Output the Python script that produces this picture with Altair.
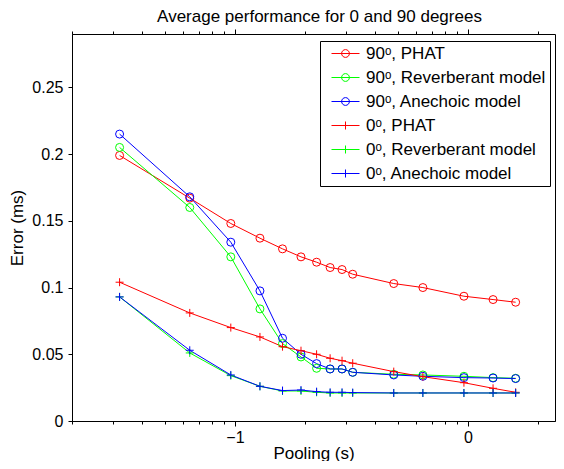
import altair as alt
import pandas as pd

# ---------------- data ----------------
pooling = [0.032, 0.064, 0.096, 0.128, 0.16, 0.192, 0.224, 0.256, 0.288, 0.32,
           0.48, 0.64, 0.96, 1.28, 1.6]

series_names = ["90ᵒ, PHAT", "90ᵒ, Reverberant model", "90ᵒ, Anechoic model",
                "0ᵒ, PHAT", "0ᵒ, Reverberant model", "0ᵒ, Anechoic model"]
series_colors = ["#ff0000", "#00ff00", "#0000ff", "#ff0000", "#00ff00", "#0000ff"]

err_90_phat = [0.199, 0.167, 0.148, 0.137, 0.129, 0.123, 0.119, 0.115, 0.1135, 0.110,
               0.103, 0.100, 0.0935, 0.091, 0.089]
err_90_rev = [0.205, 0.160, 0.123, 0.084, 0.058, 0.048, 0.0395, 0.039, 0.039, 0.0365,
              0.035, 0.0345, 0.0335, 0.0325, 0.032]
err_90_ane = [0.215, 0.168, 0.134, 0.0975, 0.062, 0.050, 0.043, 0.039, 0.039, 0.0365,
              0.0345, 0.0335, 0.0325, 0.0322, 0.0318]
err_0_phat = [0.104, 0.081, 0.070, 0.063, 0.0557, 0.0527, 0.050, 0.047, 0.0452, 0.0433,
              0.037, 0.0332, 0.0287, 0.0245, 0.0215]
err_0_rev = [0.093, 0.051, 0.034, 0.026, 0.0225, 0.0225, 0.0215, 0.021, 0.021, 0.021,
             0.021, 0.021, 0.021, 0.021, 0.021]
err_0_ane = [0.093, 0.053, 0.0345, 0.026, 0.0228, 0.0232, 0.022, 0.0215, 0.0215, 0.0213,
             0.021, 0.021, 0.021, 0.021, 0.021]

all_errors = [err_90_phat, err_90_rev, err_90_ane, err_0_phat, err_0_rev, err_0_ane]

x_tick_values = [0.02, 0.03, 0.04, 0.05, 0.06, 0.07, 0.08, 0.09, 0.1,
                 0.2, 0.3, 0.4, 0.5, 0.6, 0.7, 0.8, 0.9, 1, 2]
y_tick_values = [0, 0.05, 0.1, 0.15, 0.2, 0.25]

rows = []
for name, errs in zip(series_names, all_errors):
    for p, e in zip(pooling, errs):
        rows.append({"pooling": p, "error": e, "series": name})
df = pd.DataFrame(rows)

# ---------------- styling ----------------
FONT = "Liberation Sans"
CIRCLE_LEG = "M-0.2,0H5.4M1.82,0A0.78,0.78 0 1,1 3.38,0A0.78,0.78 0 1,1 1.82,0"
PLUS_LEG = "M-0.2,0H5.4M2.6,-0.8V0.8"
PLUS = "M-1,0H1M0,-1V1"

is_major = "abs(log(datum.value)/LN10 - round(log(datum.value)/LN10)) < 1e-6"

x_scale = alt.Scale(type="log", domain=[0.02, 2.36], nice=False)
y_scale = alt.Scale(domain=[0, 0.29], nice=False)

x_axis_bottom = alt.Axis(
    values=x_tick_values,
    labelExpr=f"{is_major} ? format(round(log(datum.value)/LN10), 'd') : ''",
    tickSize={"condition": {"test": is_major, "value": 5}, "value": 3},
    grid=False, labelOverlap=False, labelFont=FONT, labelFontSize=16,
    titleFont=FONT, titleFontSize=17, titleFontWeight="normal",
    labelPadding=3, titlePadding=0, title="Pooling (s)",
    domainColor="black", tickColor="black", labelColor="black", titleColor="black",
)
x_axis_top = alt.Axis(
    orient="top", values=x_tick_values, labels=False, domain=False,
    tickSize={"condition": {"test": is_major, "value": 5}, "value": 3},
    grid=False, tickColor="black", title="",
)
y_axis = alt.Axis(
    values=y_tick_values, format=".2~f", tickSize=4, grid=False,
    labelFont=FONT, labelFontSize=16, titleFont=FONT, titleFontSize=17,
    titleFontWeight="normal", labelPadding=5, titlePadding=5, title="Error (ms)",
    domainColor="black", tickColor="black", labelColor="black", titleColor="black",
)

color_scale = alt.Scale(domain=series_names, range=series_colors)
shape_scale = alt.Scale(domain=series_names,
                        range=["circle", "circle", "circle", PLUS, PLUS, PLUS])
legend_shape_scale = alt.Scale(domain=series_names,
                               range=[CIRCLE_LEG] * 3 + [PLUS_LEG] * 3)

legend = alt.Legend(
    orient="none", legendX=248, legendY=7,
    strokeColor="black", fillColor="white", padding=4, cornerRadius=0,
    labelFont=FONT, labelFontSize=17, labelColor="black", labelOffset=25,
    rowPadding=6, symbolSize=100, symbolStrokeWidth=1, labelLimit=400,
    symbolOpacity=1,
)

lines = alt.Chart(df).mark_line(strokeWidth=1).encode(
    x=alt.X("pooling:Q", scale=x_scale, axis=x_axis_bottom),
    y=alt.Y("error:Q", scale=y_scale, axis=y_axis),
    color=alt.Color("series:N", scale=color_scale, legend=None),
    detail="series:N",
)

points = alt.Chart(df).mark_point(filled=False, strokeWidth=1, size=64, opacity=1).encode(
    x=alt.X("pooling:Q", scale=x_scale, axis=x_axis_top),
    y=alt.Y("error:Q", scale=y_scale, axis=y_axis),
    color=alt.Color("series:N", scale=color_scale, legend=None),
    shape=alt.Shape("series:N", scale=shape_scale, legend=None),
)

legend_layer = alt.Chart(df).transform_filter("false").mark_point(
    filled=False, strokeWidth=1
).encode(
    x=alt.X("pooling:Q", scale=x_scale, axis=None),
    y=alt.Y("error:Q", scale=y_scale, axis=y_axis),
    color=alt.Color("series:N", scale=color_scale, legend=legend, title=None),
    shape=alt.Shape("series:N", scale=legend_shape_scale, legend=legend, title=None),
)

chart = alt.layer(lines, points, legend_layer).resolve_axis(
    x="independent"
).resolve_scale(color="independent", shape="independent").properties(
    width=483, height=387,
    autosize="none",
    background="white",
    padding={"left": 64, "top": 26, "right": 1, "bottom": 40},
    title=alt.TitleParams(
        "Average performance for 0 and 90 degrees",
        font=FONT, fontSize=17, fontWeight="normal", color="black",
        anchor="middle", offset=3, dx=6,
    ),
).configure_view(stroke="black", strokeWidth=1)

chart.save("out.html", embed_options={"renderer": "svg", "actions": False})
